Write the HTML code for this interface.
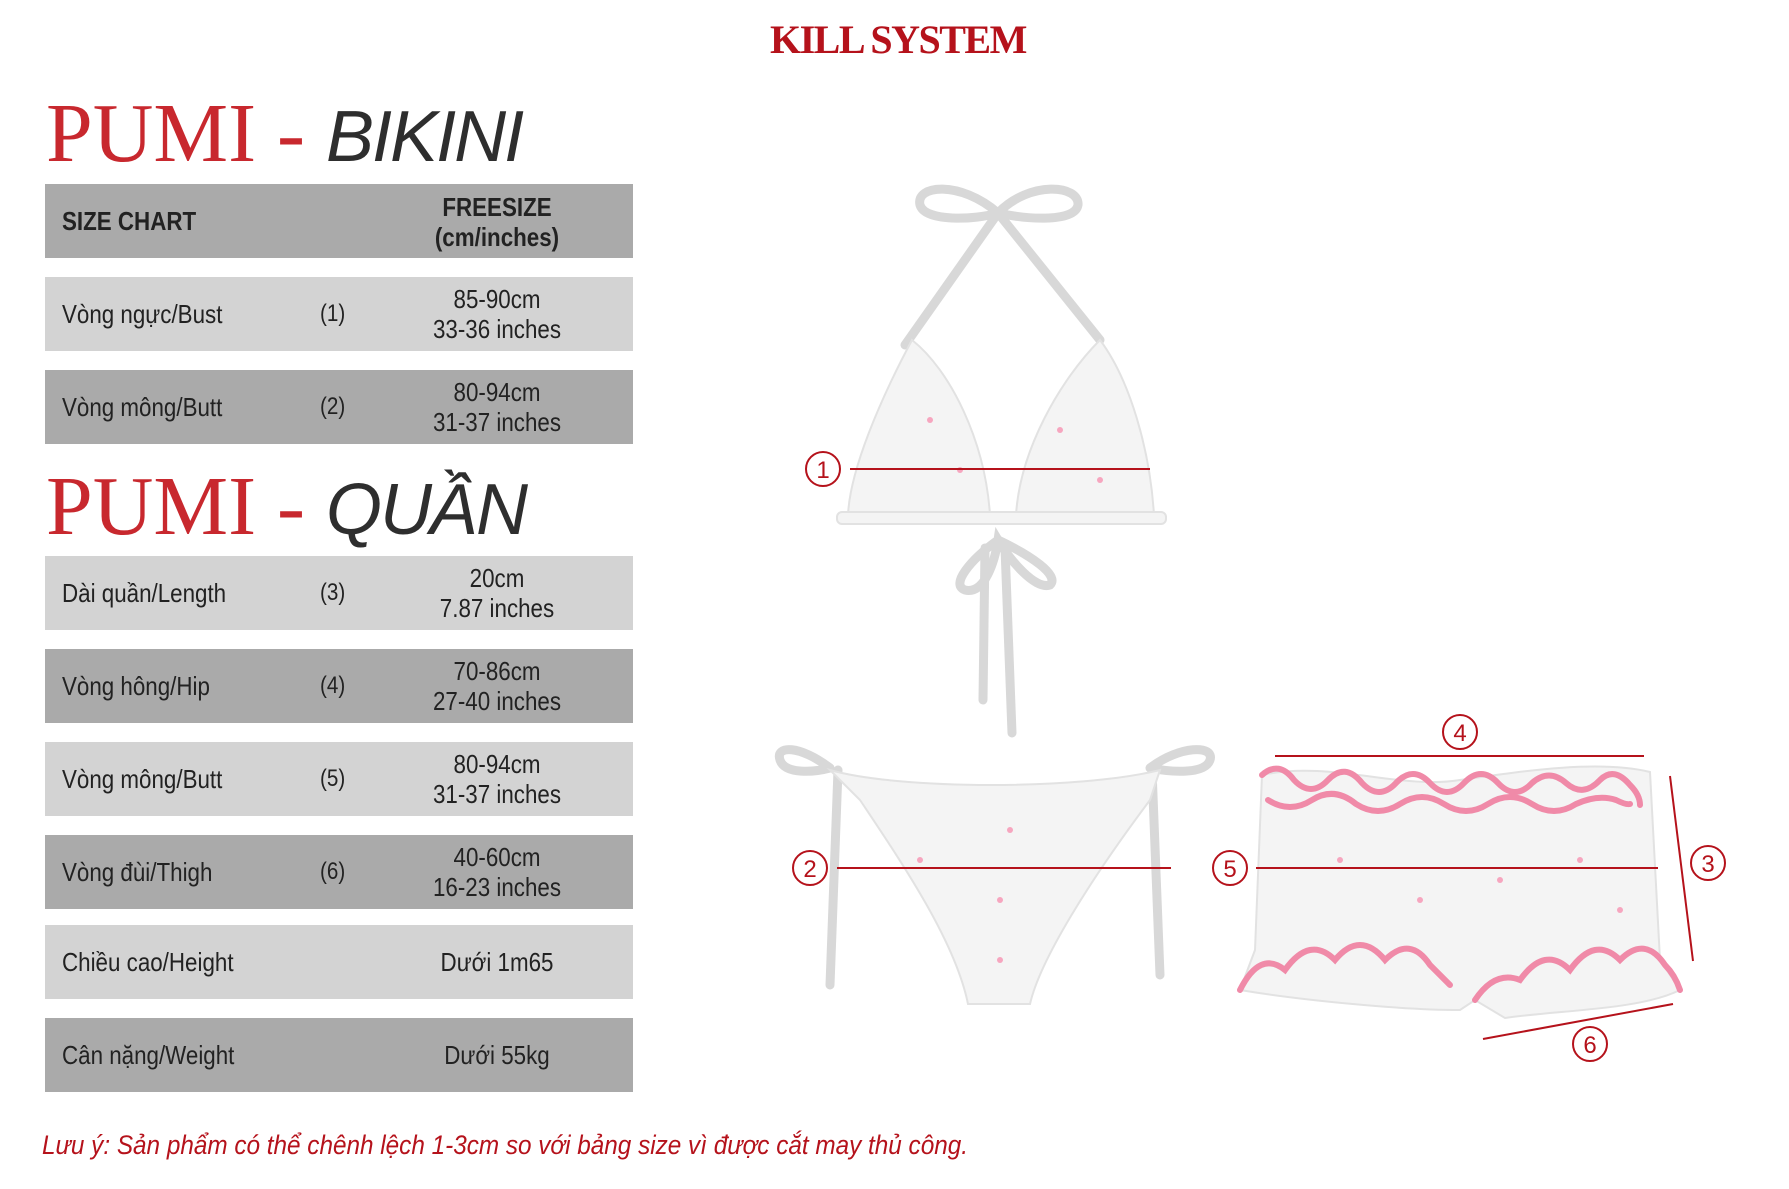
<!DOCTYPE html>
<html><head><meta charset="utf-8">
<style>
html,body{margin:0;padding:0;background:#fff;}
body{width:1789px;height:1189px;position:relative;overflow:hidden;font-family:"Liberation Sans Narrow","Liberation Sans",sans-serif;}
.abs{position:absolute;}
.title{left:770px;top:16px;font-family:"Liberation Serif",serif;font-weight:bold;color:#b5121b;font-size:40px;letter-spacing:-1.5px;white-space:nowrap;}
.h{left:46px;font-family:"Liberation Serif",serif;color:#c8282e;font-size:84px;line-height:84px;white-space:nowrap;}
.h i{font-family:"Liberation Sans",sans-serif;color:#2e2e2e;font-size:72px;font-weight:normal;letter-spacing:-2px;}
.row{left:45px;width:588px;height:74px;}
.l{background:#d3d3d3;} .d{background:#aaaaaa;}
.row .lab{position:absolute;left:17px;top:0;line-height:74px;font-size:26px;color:#222;transform:scaleX(0.86);transform-origin:left center;white-space:nowrap;}
.row .num{position:absolute;left:273px;top:0;line-height:74px;font-size:24px;color:#222;transform:scaleX(0.86);}
.row .val{position:absolute;left:352px;width:200px;text-align:center;top:7px;line-height:30px;font-size:26px;color:#222;transform:scaleX(0.86);white-space:nowrap;}
.note{left:42px;top:1130px;font-family:"Liberation Sans",sans-serif;font-style:italic;color:#b5121b;font-size:27px;white-space:nowrap;transform:scaleX(0.9);transform-origin:left center;}
</style></head><body>
<div class="abs title">KILL SYSTEM</div>
<div class="abs h" style="top:92px">PUMI <span style="color:#c8282e">-</span> <i>BIKINI</i></div>
<div class="abs h" style="top:465px">PUMI <span style="color:#c8282e">-</span> <i>QUẦN</i></div>

<div class="abs row d" style="top:184px"><div class="lab" style="font-weight:bold">SIZE CHART</div><div class="val" style="font-weight:bold;top:8px">FREESIZE<br>(cm/inches)</div></div>
<div class="abs row l" style="top:277px"><div class="lab">Vòng ngực/Bust</div><div class="num">(1)</div><div class="val">85-90cm<br>33-36 inches</div></div>
<div class="abs row d" style="top:370px"><div class="lab">Vòng mông/Butt</div><div class="num">(2)</div><div class="val">80-94cm<br>31-37 inches</div></div>
<div class="abs row l" style="top:556px"><div class="lab">Dài quần/Length</div><div class="num">(3)</div><div class="val">20cm<br>7.87 inches</div></div>
<div class="abs row d" style="top:649px"><div class="lab">Vòng hông/Hip</div><div class="num">(4)</div><div class="val">70-86cm<br>27-40 inches</div></div>
<div class="abs row l" style="top:742px"><div class="lab">Vòng mông/Butt</div><div class="num">(5)</div><div class="val">80-94cm<br>31-37 inches</div></div>
<div class="abs row d" style="top:835px"><div class="lab">Vòng đùi/Thigh</div><div class="num">(6)</div><div class="val">40-60cm<br>16-23 inches</div></div>
<div class="abs row l" style="top:925px"><div class="lab">Chiều cao/Height</div><div class="val" style="top:0;line-height:74px">Dưới 1m65</div></div>
<div class="abs row d" style="top:1018px"><div class="lab">Cân nặng/Weight</div><div class="val" style="top:0;line-height:74px">Dưới 55kg</div></div>

<div class="abs note">Lưu ý: Sản phẩm có thể chênh lệch 1-3cm so với bảng size vì được cắt may thủ công.</div>

<svg class="abs" style="left:0;top:0" width="1789" height="1189" viewBox="0 0 1789 1189">
<g fill="none" stroke="#d8d8d8" stroke-width="9" stroke-linecap="round">
 <path d="M998,213 C960,180 915,185 920,205 C925,222 975,220 998,213 C1030,180 1080,185 1078,205 C1075,222 1030,220 998,213"/>
 <path d="M998,213 L905,345 M998,213 L1100,340"/>
 <path d="M998,540 C970,560 950,585 965,590 C985,595 995,560 998,540 C1010,560 1035,590 1050,585 C1060,575 1030,555 998,540"/>
 <path d="M985,548 L983,700 M1005,548 L1012,733"/>
 <path d="M830,768 C800,745 775,745 780,760 C785,775 815,772 830,768 M1150,768 C1180,745 1215,745 1210,760 C1205,775 1170,772 1150,768"/>
 <path d="M838,770 L830,985 M1152,770 L1160,975"/>
</g>
<g fill="#f4f4f4" stroke="#e2e2e2" stroke-width="2">
 <path d="M912,340 C880,400 850,470 848,515 L990,515 C985,440 950,370 912,340Z"/>
 <path d="M1100,340 C1060,380 1020,450 1016,515 L1154,515 C1150,450 1130,380 1100,340Z"/>
 <rect x="837" y="512" width="329" height="12" rx="5"/>
 <path d="M830,770 C900,790 1080,790 1160,770 L1150,800 C1090,880 1040,960 1030,1004 L968,1004 C955,940 900,860 860,800Z"/>
 <path d="M1262,775 C1330,760 1400,790 1460,780 C1530,770 1600,760 1650,772 L1660,960 L1680,990 C1640,1010 1560,1010 1505,1018 L1475,1000 L1460,1010 C1400,1010 1300,1000 1240,990 L1255,950Z"/>
</g>
<g fill="none" stroke="#f08aa8" stroke-width="6" stroke-linecap="round">
 <path d="M1262,775 q17,-15 32,5 q17,18 34,0 q17,-18 34,3 q17,18 34,0 q17,-18 34,0 q17,18 34,0 q17,-18 34,0 q17,18 34,0 q17,-15 34,0 q17,15 34,-3 q14,-14 30,5 q10,10 10,20"/>
 <path d="M1268,800 q22,14 44,0 q22,-14 44,4 q22,14 44,0 q22,-14 44,0 q22,14 44,0 q22,-14 44,0 q22,14 44,0 q22,-10 40,-4 q10,5 14,4"/>
 <path d="M1240,990 q20,-40 45,-20 q25,-35 50,-10 q25,-30 50,0 q25,-25 45,5 l20,20 M1475,1000 q20,-30 45,-20 q25,-35 50,-10 q25,-35 50,-10 q25,-25 45,5 q10,10 15,25"/>
</g>
<g fill="#f6a6bf">
 <circle cx="930" cy="420" r="3"/><circle cx="960" cy="470" r="3"/><circle cx="1060" cy="430" r="3"/><circle cx="1100" cy="480" r="3"/>
 <circle cx="920" cy="860" r="3"/><circle cx="1000" cy="900" r="3"/><circle cx="1010" cy="830" r="3"/><circle cx="1000" cy="960" r="3"/>
 <circle cx="1340" cy="860" r="3"/><circle cx="1420" cy="900" r="3"/><circle cx="1500" cy="880" r="3"/><circle cx="1580" cy="860" r="3"/><circle cx="1620" cy="910" r="3"/>
</g>
<g stroke="#b5121b" stroke-width="2" fill="none">
 <line x1="850" y1="469" x2="1150" y2="469"/>
 <line x1="837" y1="868" x2="1171" y2="868"/>
 <line x1="1275" y1="756" x2="1644" y2="756"/>
 <line x1="1256" y1="868" x2="1658" y2="868"/>
 <line x1="1670" y1="776" x2="1693" y2="961"/>
 <line x1="1483" y1="1039" x2="1673" y2="1004"/>
 <circle cx="823" cy="469" r="17"/><circle cx="810" cy="868" r="17"/>
 <circle cx="1460" cy="732" r="17"/><circle cx="1230" cy="868" r="17"/>
 <circle cx="1708" cy="863" r="17"/><circle cx="1590" cy="1044" r="17"/>
</g>
<g fill="#b5121b" font-family="Liberation Sans, sans-serif" font-size="24" text-anchor="middle">
 <text x="823" y="478">1</text><text x="810" y="877">2</text>
 <text x="1460" y="741">4</text><text x="1230" y="877">5</text>
 <text x="1708" y="872">3</text><text x="1590" y="1053">6</text>
</g>
</svg>
</body></html>
